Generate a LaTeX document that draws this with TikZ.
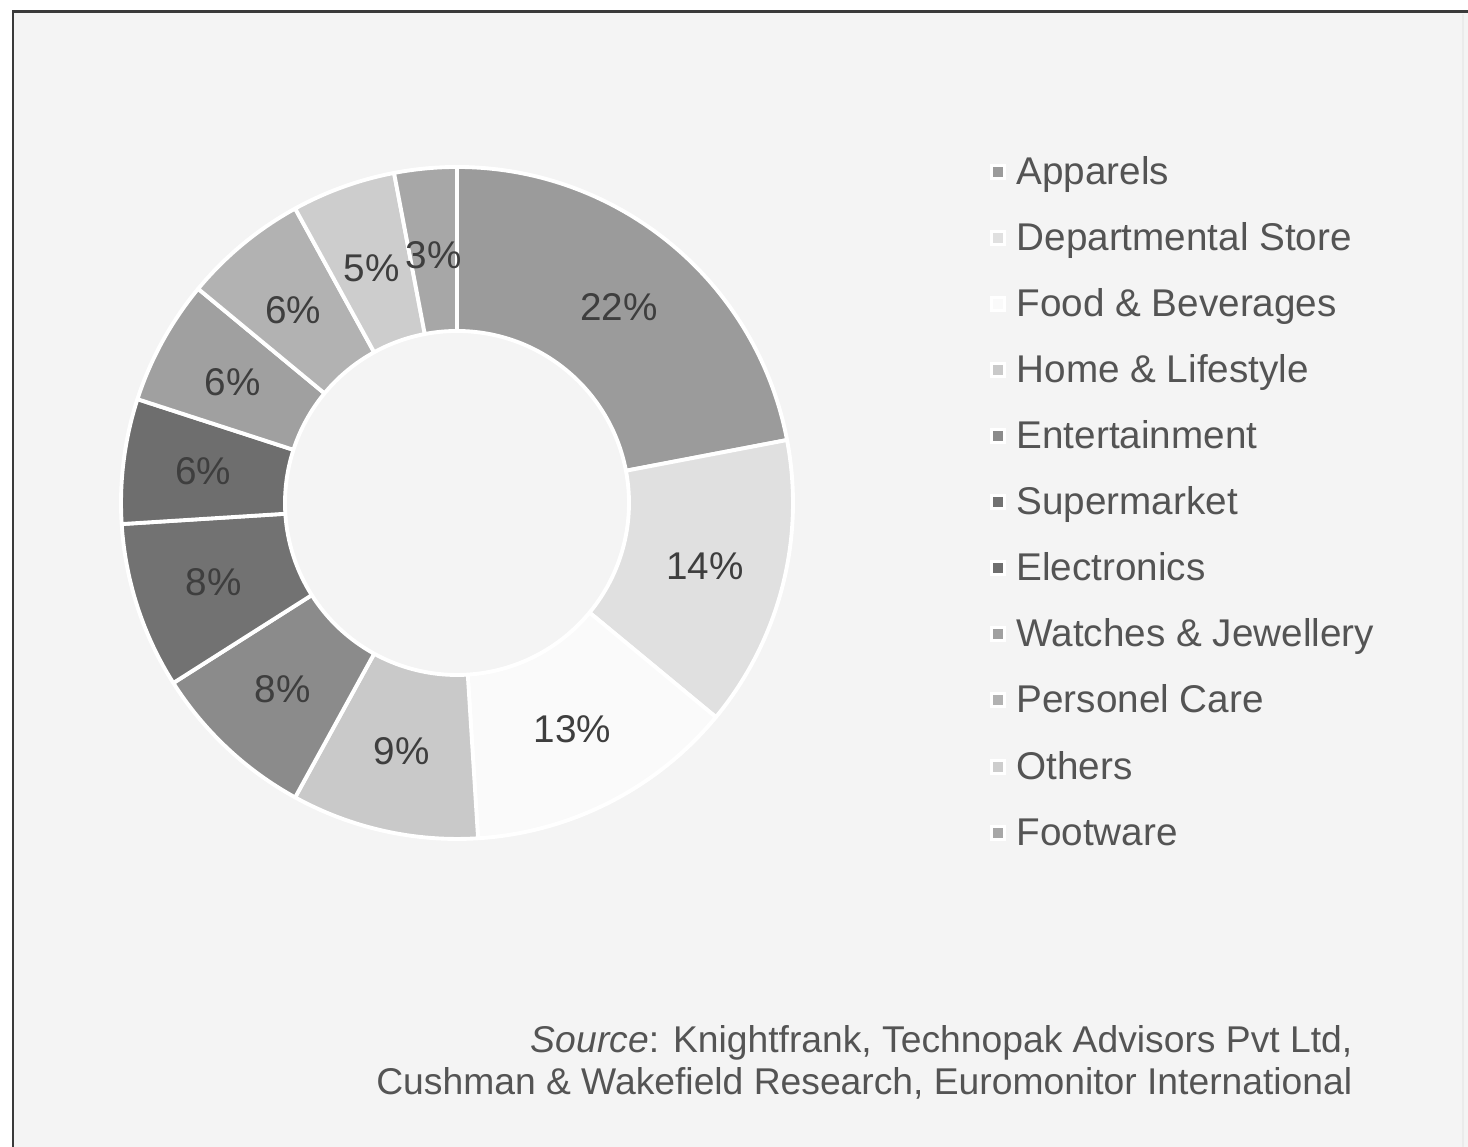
\documentclass[tikz,border=0pt]{standalone}
\usepackage{fontspec}
\setmainfont{Liberation Sans}
\usetikzlibrary{positioning}

\definecolor{bggray}{HTML}{F4F4F4}
\definecolor{framegray}{HTML}{3A3A3A}
\definecolor{txtgray}{HTML}{545454}
\definecolor{pctgray}{HTML}{3E3E3E}
\definecolor{cApp}{HTML}{9B9B9B}
\definecolor{cDep}{HTML}{E0E0E0}
\definecolor{cFood}{HTML}{FAFAFA}
\definecolor{cHome}{HTML}{C9C9C9}
\definecolor{cEnt}{HTML}{8B8B8B}
\definecolor{cSup}{HTML}{727272}
\definecolor{cElec}{HTML}{6E6E6E}
\definecolor{cWatch}{HTML}{A0A0A0}
\definecolor{cPers}{HTML}{B2B2B2}
\definecolor{cOth}{HTML}{CDCDCD}
\definecolor{cFoot}{HTML}{A7A7A7}

\tikzset{
  slice/.style={draw=white, line width=1.1pt, line join=round},
  pct/.style={text=pctgray, font=\fontsize{11}{13}\selectfont, inner sep=0pt},
  legmark/.style={draw=white, line width=0.8pt, minimum size=0.13cm, inner sep=0pt},
  legtext/.style={text=txtgray, font=\fontsize{11}{13}\selectfont, anchor=west,
    text height=0.72em, text depth=0pt, inner sep=0pt},
  srctext/.style={text=txtgray, font=\fontsize{10.6}{13}\selectfont, anchor=base east, inner sep=0pt}
}

\begin{document}
\begin{tikzpicture}

    \useasboundingbox (0,0) rectangle (14.68,11.47);
    \fill[white] (0,0) rectangle (14.68,11.47);
    \fill[bggray] (0.13,0) rectangle (14.68,11.35);
    \draw[framegray, line width=0.85pt] (0.13,0) -- (0.13,11.35) -- (14.68,11.35); %frame
    \draw[black!8, line width=0.3pt] (14.63,0) -- (14.63,11.33);

    \begin{scope}[shift={(4.57,6.44)}]
    \filldraw[slice, fill=cApp] (90:3.36) arc (90:10.8:3.36) -- (10.8:1.72) arc (10.8:90:1.72) -- cycle; %Apparels
    \filldraw[slice, fill=cDep] (10.8:3.36) arc (10.8:-39.6:3.36) -- (-39.6:1.72) arc (-39.6:10.8:1.72) -- cycle; %Departmental
    \filldraw[slice, fill=cFood] (-39.6:3.36) arc (-39.6:-86.4:3.36) -- (-86.4:1.72) arc (-86.4:-39.6:1.72) -- cycle; %Food
    \filldraw[slice, fill=cHome] (-86.4:3.36) arc (-86.4:-118.8:3.36) -- (-118.8:1.72) arc (-118.8:-86.4:1.72) -- cycle; %Home
    \filldraw[slice, fill=cEnt] (-118.8:3.36) arc (-118.8:-147.6:3.36) -- (-147.6:1.72) arc (-147.6:-118.8:1.72) -- cycle; %Entertainment
    \filldraw[slice, fill=cSup] (-147.6:3.36) arc (-147.6:-176.4:3.36) -- (-176.4:1.72) arc (-176.4:-147.6:1.72) -- cycle; %Supermarket
    \filldraw[slice, fill=cElec] (-176.4:3.36) arc (-176.4:-198:3.36) -- (-198:1.72) arc (-198:-176.4:1.72) -- cycle; %Electronics
    \filldraw[slice, fill=cWatch] (-198:3.36) arc (-198:-219.6:3.36) -- (-219.6:1.72) arc (-219.6:-198:1.72) -- cycle; %Watches
    \filldraw[slice, fill=cPers] (-219.6:3.36) arc (-219.6:-241.2:3.36) -- (-241.2:1.72) arc (-241.2:-219.6:1.72) -- cycle; %Personel
    \filldraw[slice, fill=cOth] (-241.2:3.36) arc (-241.2:-259.2:3.36) -- (-259.2:1.72) arc (-259.2:-241.2:1.72) -- cycle; %Others
    \filldraw[slice, fill=cFoot] (-259.2:3.36) arc (-259.2:-270:3.36) -- (-270:1.72) arc (-270:-259.2:1.72) -- cycle; %Footware

    \node[pct] (pApp) at (50.4:2.54) {22\%};
    \node[pct] (pDep) at (-14.4:2.56) {14\%};
    \node[pct] (pFood) at (-63:2.54) {13\%};
    \node[pct] (pHome) at (-102.6:2.54) {9\%};
    \node[pct] (pEnt) at (-133.2:2.55) {8\%};
    \node[pct] (pSup) at (-162:2.56) {8\%};
    \node[pct] (pElec) at (-187.2:2.56) {6\%};
    \node[pct] (pWatch) at (-208.4:2.55) {6\%};
    \node[pct] (pPers) at (-229.6:2.53) {6\%};
    \node[pct] (pOth) at (-250:2.50) {5\%};
    \node[pct] (pFoot) at (-264.6:2.49) {3\%};
    \end{scope}

    % legend
    \node[legmark, fill=cApp] (mApp) at (9.98,9.75) {};
    \node[legmark, fill=cDep] (mDep) at (9.98,9.09) {};
    \node[legmark, fill=cFood] (mFood) at (9.98,8.43) {};
    \node[legmark, fill=cHome] (mHome) at (9.98,7.77) {};
    \node[legmark, fill=cEnt] (mEnt) at (9.98,7.11) {};
    \node[legmark, fill=cSup] (mSup) at (9.98,6.45) {};
    \node[legmark, fill=cElec] (mElec) at (9.98,5.79) {};
    \node[legmark, fill=cWatch] (mWatch) at (9.98,5.13) {};
    \node[legmark, fill=cPers] (mPers) at (9.98,4.47) {};
    \node[legmark, fill=cOth] (mOth) at (9.98,3.80) {};
    \node[legmark, fill=cFoot] (mFoot) at (9.98,3.14) {};

    \node[legtext, right=0.1 of mApp] (tApp) {Apparels};
    \node[legtext, right=0.1 of mDep] (tDep) {Departmental Store};
    \node[legtext, right=0.1 of mFood] (tFood) {Food \& Beverages};
    \node[legtext, right=0.1 of mHome] (tHome) {Home \& Lifestyle};
    \node[legtext, right=0.1 of mEnt] (tEnt) {Entertainment};
    \node[legtext, right=0.1 of mSup] (tSup) {Supermarket};
    \node[legtext, right=0.1 of mElec] (tElec) {Electronics};
    \node[legtext, right=0.1 of mWatch] (tWatch) {Watches \& Jewellery};
    \node[legtext, right=0.1 of mPers] (tPers) {Personel Care};
    \node[legtext, right=0.1 of mOth] (tOth) {Others};
    \node[legtext, right=0.1 of mFoot] (tFoot) {Footware};

    % source
    \node[srctext] (src1) at (13.53,0.94) {\textit{Source}: Knightfrank, Technopak Advisors Pvt Ltd,};
    \node[srctext] (src2) at (13.53,0.52) {Cushman \& Wakefield Research, Euromonitor International};

\end{tikzpicture}
\end{document}
